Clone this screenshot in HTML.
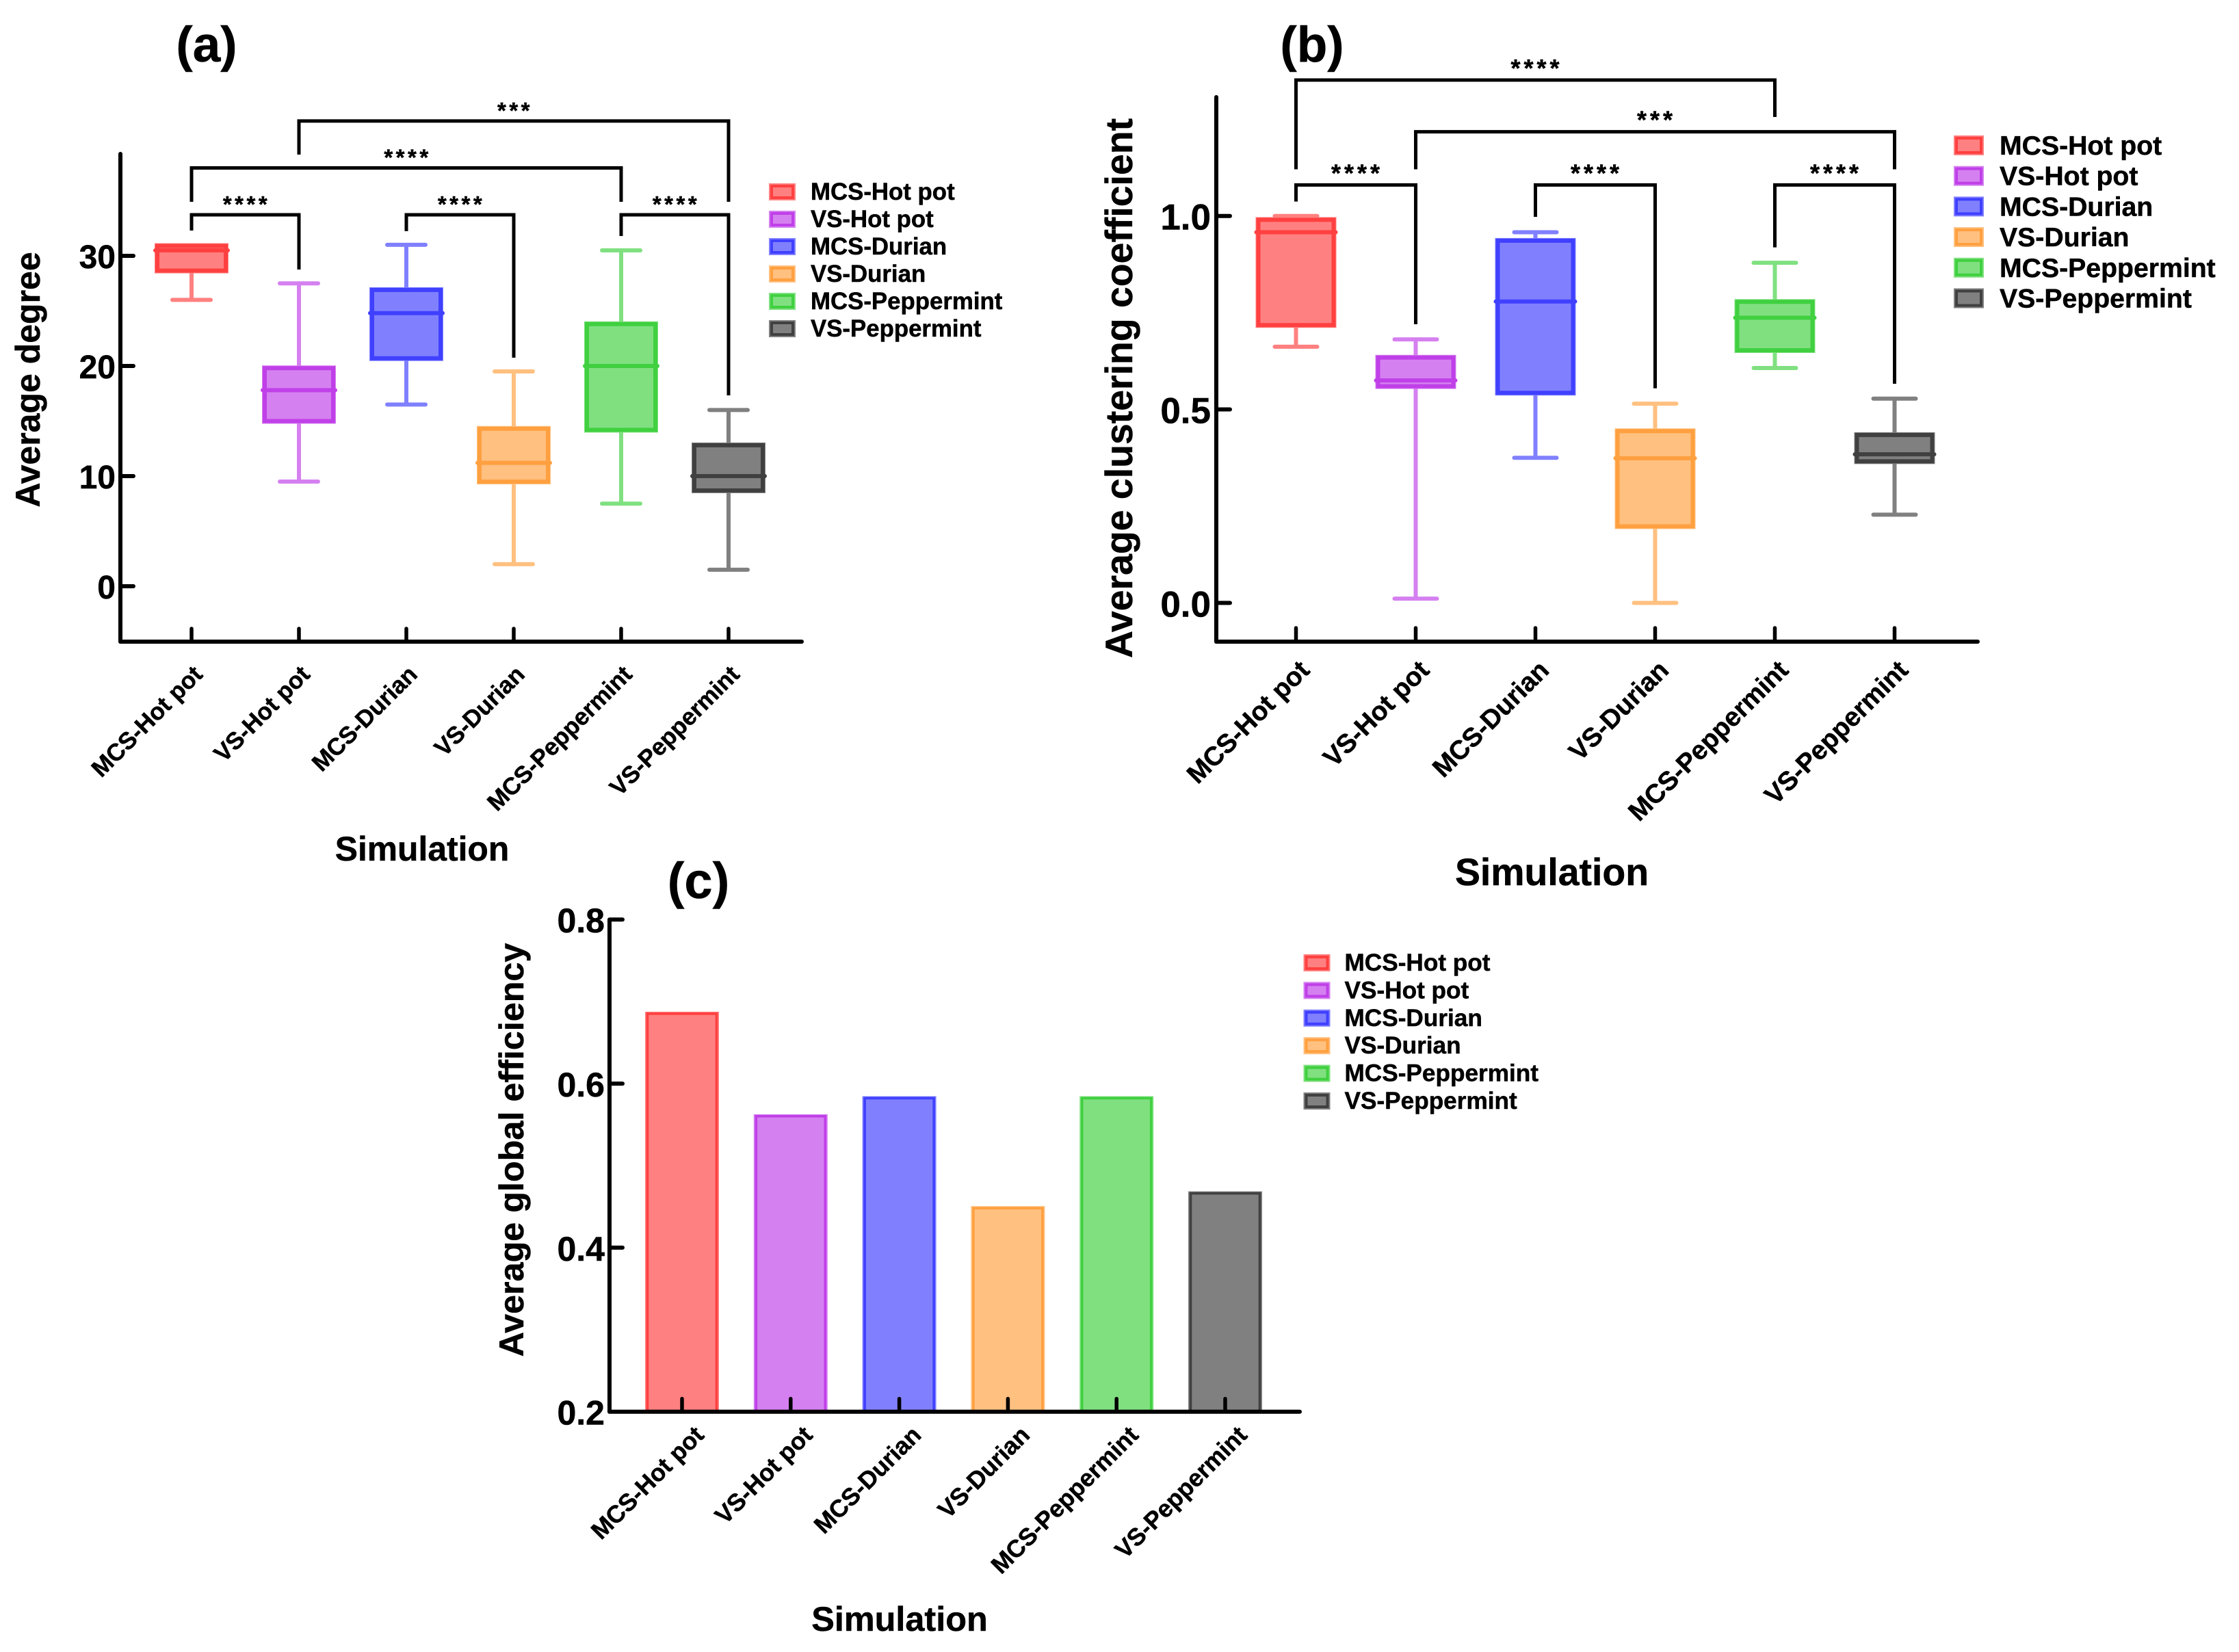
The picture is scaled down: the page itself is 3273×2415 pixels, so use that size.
<!DOCTYPE html>
<html lang="en">
<head>
<meta charset="utf-8">
<title>Network metrics by simulation</title>
<style>
html,body{margin:0;padding:0;background:#fff;width:3273px;height:2415px;overflow:hidden}
svg{display:block}
text{font-family:"Liberation Sans",Arial,sans-serif;font-weight:700;fill:#000;stroke:#000;stroke-width:.5px}
</style>
</head>
<body>
<svg id="figure" xmlns="http://www.w3.org/2000/svg" width="3273" height="2415" viewBox="0 0 3273 2415">
  <rect x="0" y="0" width="3273" height="2415" fill="#ffffff"/>
  <text x="302" y="90" font-size="73" text-anchor="middle">(a)</text>
  <text x="1918" y="90" font-size="73" text-anchor="middle">(b)</text>
  <text x="1021" y="1313" font-size="74" text-anchor="middle">(c)</text>
  <text transform="translate(58 555) rotate(-90)" font-size="50" text-anchor="middle">Average degree</text>
  <text transform="translate(1655 567.5) rotate(-90)" font-size="55.4" text-anchor="middle">Average clustering coefficient</text>
  <text transform="translate(765 1681) rotate(-90)" font-size="50.3" text-anchor="middle">Average global efficiency</text>
  <text x="617" y="1258" font-size="49.8" text-anchor="middle">Simulation</text>
  <text x="2268.5" y="1294" font-size="55.4" text-anchor="middle">Simulation</text>
  <text x="1315" y="2384" font-size="50.4" text-anchor="middle">Simulation</text>
</svg>
<script>
const categories = ["MCS-Hot pot", "VS-Hot pot", "MCS-Durian", "VS-Durian", "MCS-Peppermint", "VS-Peppermint"];

const degreeLow    = [26, 9.5, 16.5, 2, 7.5, 1.5];
const degreeQ1     = [28.66, 15, 20.7, 9.5, 14.2, 8.7];
const degreeMedian = [30.5, 17.8, 24.8, 11.2, 20, 10];
const degreeQ3     = [30.9, 19.8, 26.9, 14.3, 23.8, 12.8];
const degreeHigh   = [30.9, 27.5, 31, 19.5, 30.5, 16];
const degreeTicks  = ["0", "10", "20", "30"];

const clusteringLow    = [0.662, 0.011, 0.375, 0, 0.607, 0.228];
const clusteringQ1     = [0.718, 0.56, 0.543, 0.198, 0.653, 0.366];
const clusteringMedian = [0.958, 0.575, 0.779, 0.374, 0.737, 0.384];
const clusteringQ3     = [0.99, 0.634, 0.936, 0.444, 0.778, 0.434];
const clusteringHigh   = [1.0, 0.681, 0.958, 0.515, 0.879, 0.528];
const clusteringTicks  = ["0.0", "0.5", "1.0"];

const efficiencyValues = [0.686, 0.561, 0.583, 0.449, 0.583, 0.467];
const efficiencyTicks  = ["0.2", "0.4", "0.6", "0.8"];

const fillColors   = ["#ff8080", "#d580f0", "#8080ff", "#ffc080", "#80e080", "#808080"];
const strokeColors = ["#ff4040", "#c040e8", "#4040ff", "#ffa040", "#40d040", "#404040"];

const SVG_NS = "http://www.w3.org/2000/svg";
const root = document.getElementById("figure");

function make(tag, attrs) {
  const node = document.createElementNS(SVG_NS, tag);
  for (const key in attrs) node.setAttribute(key, attrs[key]);
  root.appendChild(node);
  return node;
}

function slug(label) {
  return label.toLowerCase().replace(/\s+/g, "-");
}

const xA = function (i) { return 280 + 157 * i; };
const yA = function (v) { return 857 - 16.1 * v; };
const xB = function (i) { return 1894.5 + 175 * i; };
const yB = function (v) { return 881.4 - 565.7 * v; };
const xC = function (i) { return 997 + 158.8 * i; };
const yC = function (v) { return 2063.7 - (v - 0.2) * 1199; };

function drawAxes(p) {
  const yAxis = make("line", {x1: p.axisX, y1: p.axisTop, x2: p.axisX, y2: p.axisY, stroke: "#000", "stroke-width": 6, "stroke-linecap": "round"});
  
  
  const xAxis = make("line", {x1: p.axisX, y1: p.axisY, x2: p.axisEnd, y2: p.axisY, stroke: "#000", "stroke-width": 6, "stroke-linecap": "round"});
  
  

  p.ticks.forEach(function (label) {
    const py = p.y(parseFloat(label));
    if (Math.abs(py - p.axisY) > 1) {
      const t = make("line", {x1: p.axisX, y1: py, x2: p.axisX + p.tickLen, y2: py, stroke: "#000", "stroke-width": 6, "stroke-linecap": "round"});
      
      
    }
    const txt = make("text", {x: p.tickLabelX, y: py + p.tickFont * 0.358 + 1, "font-size": p.tickFont, "text-anchor": "end"});
    txt.textContent = label;
    
    
  });
}

function drawCategoryTicks(p) {
  categories.forEach(function (label, i) {
    const px = p.x(i);
    const t = make("line", {x1: px, y1: p.axisY, x2: px, y2: p.axisY - p.tickLen, stroke: "#000", "stroke-width": 5.5, "stroke-linecap": "round"});
    
    
    const lx = px + p.labelDx;
    const ly = p.labelY;
    const txt = make("text", {x: lx, y: ly, "font-size": p.labelFont, "text-anchor": "end", transform: "rotate(-45 " + lx + " " + ly + ")"});
    txt.textContent = label;
    
    
  });
}

function drawLegend(p) {
  categories.forEach(function (label, i) {
    const top = p.legendY + p.legendStep * i;
    const outer = make("rect", {x: p.legendX, y: top, width: p.swatchW, height: p.swatchH, fill: fillColors[i]});
    
    
    const ring = make("rect", {x: p.legendX + 4, y: top + 4, width: p.swatchW - 8, height: p.swatchH - 8, fill: "none", stroke: strokeColors[i], "stroke-width": 4});
    
    
    const txt = make("text", {x: p.legendTextX, y: top + p.swatchH - 1, "font-size": p.legendFont});
    txt.textContent = label;
    
    
  });
}

function drawBoxes(p) {
  categories.forEach(function (label, i) {
    const px = p.x(i);
    const name = p.id + "-" + slug(label);
    const whisker = make("line", {x1: px, y1: p.y(p.low[i]), x2: px, y2: p.y(p.high[i]), stroke: fillColors[i], "stroke-width": 6});
    
    
    [p.low[i], p.high[i]].forEach(function (v, k) {
      const cap = make("line", {x1: px - p.capHalf, y1: p.y(v), x2: px + p.capHalf, y2: p.y(v), stroke: fillColors[i], "stroke-width": 6, "stroke-linecap": "round"});
      
      
    });
    const top = p.y(p.q3[i]);
    const bottom = p.y(p.q1[i]);
    const edge = make("rect", {x: px - p.boxHalf - 4, y: top - 4, width: 2 * p.boxHalf + 8, height: bottom - top + 8, fill: fillColors[i]});
    
    
    const border = make("rect", {x: px - p.boxHalf, y: top, width: 2 * p.boxHalf, height: bottom - top, fill: "none", stroke: strokeColors[i], "stroke-width": 6});
    
    
    const median = make("line", {x1: px - p.boxHalf - 3, y1: p.y(p.median[i]), x2: px + p.boxHalf + 3, y2: p.y(p.median[i]), stroke: strokeColors[i], "stroke-width": 6, "stroke-linecap": "round"});
    
    
  });
}

function drawBracket(p, from, to, level, leftEnd, rightEnd, stars) {
  const x1 = p.x(from);
  const x2 = p.x(to);
  const yLevel = p.y(level);
  const d = "M" + x1 + " " + p.y(leftEnd) + "V" + yLevel + "H" + x2 + "V" + p.y(rightEnd);
  const path = make("path", {d: d, fill: "none", stroke: "#000", "stroke-width": 5});
  
  
  const txt = make("text", {x: (x1 + x2) / 2 + 2, y: yLevel - p.starLift, "font-size": p.starFont, "letter-spacing": p.starGap, "text-anchor": "middle"});
  txt.textContent = stars;
  
  
}

const panelA = {
  id: "a", x: xA, y: yA, axisX: 176, axisTop: 225, axisY: 938, axisEnd: 1172, tickLen: 19,
  ticks: degreeTicks, tickFont: 48, tickLabelX: 169,
  labelDx: 18, labelY: 988, labelFont: 35,
  low: degreeLow, q1: degreeQ1, median: degreeMedian, q3: degreeQ3, high: degreeHigh,
  boxHalf: 50, capHalf: 28, starFont: 33, starGap: 4.5, starLift: 4,
  legendX: 1124, legendY: 268, legendStep: 40, swatchW: 39, swatchH: 25, legendTextX: 1185, legendFont: 34.8
};
const panelB = {
  id: "b", x: xB, y: yB, axisX: 1778, axisTop: 142, axisY: 938, axisEnd: 2891, tickLen: 20,
  ticks: clusteringTicks, tickFont: 53, tickLabelX: 1770,
  labelDx: 22, labelY: 982, labelFont: 38.7,
  low: clusteringLow, q1: clusteringQ1, median: clusteringMedian, q3: clusteringQ3, high: clusteringHigh,
  boxHalf: 55, capHalf: 31, starFont: 36, starGap: 5, starLift: 5,
  legendX: 2872 - 16, legendY: 198, legendStep: 44.7, swatchW: 44, swatchH: 29, legendTextX: 2923, legendFont: 39.2
};
const panelC = {
  id: "c", x: xC, y: yC, axisX: 891, axisTop: 1345, axisY: 2063.7, axisEnd: 1900, tickLen: 19,
  ticks: efficiencyTicks, tickFont: 50, tickLabelX: 884,
  labelDx: 34, labelY: 2100, labelFont: 35.6,
  legendX: 1905.5, legendY: 1395, legendStep: 40.4, swatchW: 39, swatchH: 25, legendTextX: 1965.5, legendFont: 35.2
};

drawBoxes(panelA);
drawAxes(panelA);
drawCategoryTicks(panelA);
drawLegend(panelA);
drawBracket(panelA, 1, 5, 42.24, 39.19, 34.91, "***");
drawBracket(panelA, 0, 4, 37.98, 34.91, 34.91, "****");
drawBracket(panelA, 0, 1, 33.73, 32.3, 28.76, "****");
drawBracket(panelA, 2, 3, 33.73, 32.24, 20.75, "****");
drawBracket(panelA, 4, 5, 33.73, 31.8, 17.33, "****");

drawBoxes(panelB);
drawAxes(panelB);
drawCategoryTicks(panelB);
drawLegend(panelB);
drawBracket(panelB, 0, 4, 1.3512, 1.1206, 1.2558, "****");
drawBracket(panelB, 1, 5, 1.2176, 1.1206, 1.1206, "***");
drawBracket(panelB, 0, 1, 1.0801, 1.0373, 0.7202, "****");
drawBracket(panelB, 2, 3, 1.0801, 0.9977, 0.5547, "****");
drawBracket(panelB, 4, 5, 1.0801, 0.9189, 0.5664, "****");

categories.forEach(function (label, i) {
  const px = xC(i);
  const top = yC(efficiencyValues[i]);
  const base = yC(0.2);
  const bar = make("rect", {x: px - 54, y: top - 2, width: 108, height: base - top + 2, fill: fillColors[i]});
  
  
  const edge = make("path", {d: "M" + (px - 50.5) + " " + base + "V" + (top + 1) + "H" + (px + 50.5) + "V" + base, fill: "none", stroke: strokeColors[i], "stroke-width": 3.6});
  
  
});
drawAxes(panelC);
drawCategoryTicks(panelC);
drawLegend(panelC);
</script>
</body>
</html>
